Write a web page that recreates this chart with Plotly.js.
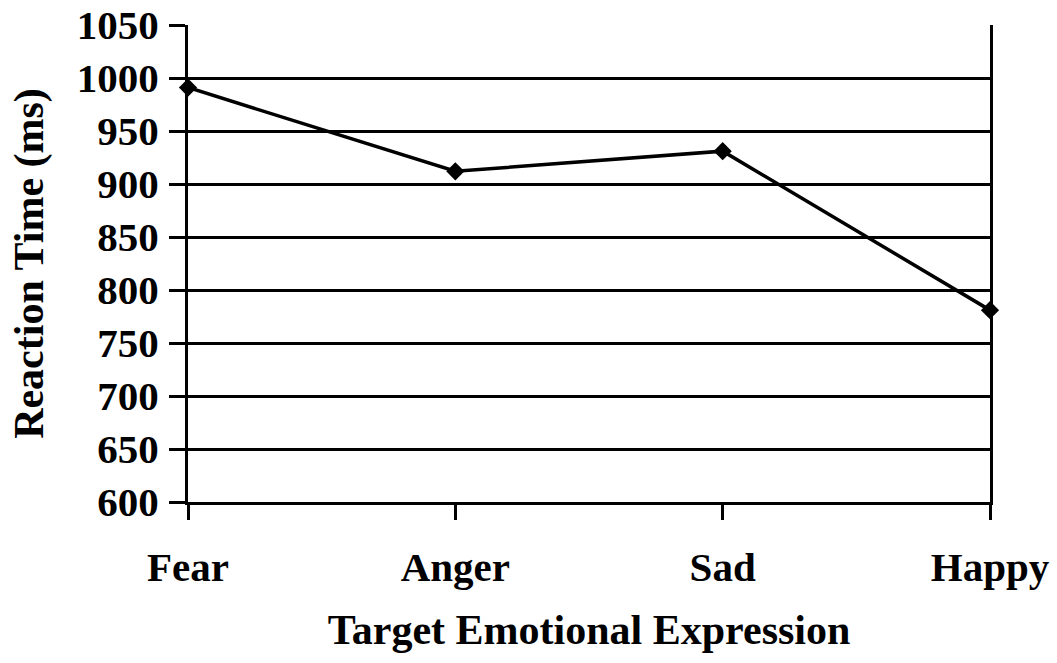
<!DOCTYPE html>
<html>
<head>
<meta charset="utf-8">
<script src="https://cdn.plot.ly/plotly-3.0.1.min.js"></script>
<style>html,body{margin:0;padding:0;background:#fff;}#chart{width:1057px;height:663px;}</style>
</head>
<body>
<div id="chart"></div>
<script>
const categories = ["Fear", "Anger", "Sad", "Happy"];
const reactionTimes = [991, 912, 931, 781];
const yTickValues = [600, 650, 700, 750, 800, 850, 900, 950, 1000, 1050];

const fontFamily = "'Liberation Serif', 'Times New Roman', Times, serif";

const trace = {
  x: categories,
  y: reactionTimes,
  type: "scatter",
  mode: "lines+markers",
  line: {color: "#000", width: 3.5},
  marker: {symbol: "diamond", size: 14, color: "#000"},
  cliponaxis: false,
  hoverinfo: "skip"
};

const layout = {
  width: 1057,
  height: 663,
  margin: {l: 188, r: 67, t: 25, b: 161},
  paper_bgcolor: "#fff",
  plot_bgcolor: "#fff",
  showlegend: false,
  font: {family: fontFamily, color: "#000", size: 42, weight: "bold"},
  xaxis: {
    type: "category",
    categoryorder: "array",
    categoryarray: categories,
    range: [0, 3],
    showgrid: false,
    zeroline: false,
    showline: true,
    linecolor: "#000",
    linewidth: 3,
    ticks: "outside",
    ticklen: 15,
    tickwidth: 3,
    tickcolor: "#000",
    tickfont: {family: fontFamily, size: 41, color: "#000", weight: "bold"},
    ticklabelstandoff: 12,
    title: {text: "Target Emotional Expression", font: {family: fontFamily, size: 42, color: "#000", weight: "bold"}, standoff: 26}
  },
  yaxis: {
    range: [600, 1050],
    tickvals: yTickValues,
    ticktext: yTickValues.map(String),
    showgrid: true,
    gridcolor: "#000",
    gridwidth: 3,
    zeroline: false,
    showline: true,
    mirror: true,
    linecolor: "#000",
    linewidth: 3,
    ticks: "outside",
    ticklen: 16,
    tickwidth: 3,
    tickcolor: "#000",
    tickfont: {family: fontFamily, size: 41, color: "#000", weight: "bold"},
    ticklabelstandoff: 2,
    title: {text: "Reaction Time (ms)", font: {family: fontFamily, size: 42, color: "#000", weight: "bold"}, standoff: 21}
  }
};

Plotly.newPlot("chart", [trace], layout, {displayModeBar: false, staticPlot: true});
</script>
</body>
</html>
